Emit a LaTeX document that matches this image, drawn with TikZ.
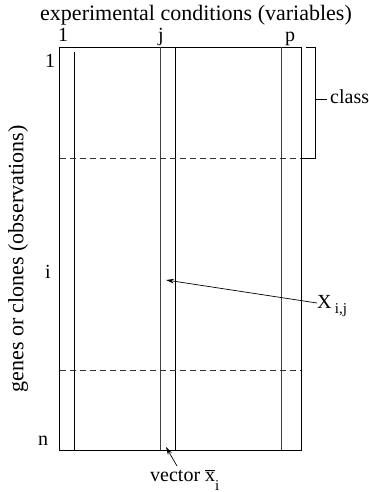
\documentclass[tikz,border=0pt]{standalone}
\usepackage{fontspec}
\setmainfont{Liberation Serif}
\usetikzlibrary{arrows.meta}
\begin{document}
\begin{tikzpicture}[x=1pt,y=-1pt,
  lbl/.style={inner sep=0pt,anchor=base,font=\fontsize{20}{24}\selectfont},
  big/.style={inner sep=0pt,anchor=base,font=\fontsize{22}{26}\selectfont},
  ln/.style={line width=0.9pt},
  gl/.style={line width=0.9pt,draw=black!75},
  dl/.style={line width=0.8pt,dash pattern=on 6pt off 4pt,draw=black!80},
  arr/.style={line width=0.7pt,-{Stealth[length=8pt,width=4.5pt]}}]
\useasboundingbox (0,0) rectangle (369,492);
% matrix frame
\coordinate (tl) at (59.5,47.5);
\coordinate (br) at (301,450);
\draw[ln] (tl) rectangle (br);
% column lines
\coordinate (c1t) at (74,52); \coordinate (c1b) at (74,450);
\coordinate (jat) at (160.5,47.5); \coordinate (jab) at (160.5,450);
\coordinate (jbt) at (175,47.5); \coordinate (jbb) at (175,450);
\coordinate (pt) at (281,47.5); \coordinate (pb) at (281,450);
\draw[ln] (c1t) -- (c1b);
\draw[gl] (jat) -- (jab);
\draw[ln] (jbt) -- (jbb);
\draw[gl] (pt) -- (pb);
% dashed class boundaries
\coordinate (d1l) at (59.5,158); \coordinate (d1r) at (301,158);
\coordinate (d2l) at (59.5,370); \coordinate (d2r) at (301,370);
\draw[dl] (d1l) -- (d1r);
\draw[dl] (d2l) -- (d2r);
% class bracket
\coordinate (bt0) at (306,47.5); \coordinate (bt1) at (315,47.5);
\coordinate (bb1) at (315,158); \coordinate (bb0) at (301,158);
\draw[ln] (bt0) -- (bt1) -- (bb1) -- (bb0);
\coordinate (tk0) at (315,99);
\node[lbl,anchor=base west] (class) at (330,104) {class};
\draw[ln] (tk0) -- (327,99);
% labels
\node[big] (title) at (196,21) {experimental conditions (variables)};
\node[lbl] (col1) at (63,41.5) {1};
\node[lbl] (colj) at (161,41.5) {j};
\node[lbl] (colp) at (290,41.5) {p};
\node[lbl] (row1) at (50,68) {1};
\node[lbl] (rowi) at (48,278) {i};
\node[lbl] (rown) at (43,445) {n};
\node[big,rotate=90,anchor=center] (obs) at (18,259) {genes or clones (observations)};
% X_ij
\node[lbl,anchor=base west] (X) at (317,308) {X\,\raisebox{-5pt}{\fontsize{15}{15}\selectfont i,j}};
\coordinate (xij) at (166,280);
\draw[arr] (X.west |- 0,303) -- (xij);
% vector
\node[lbl,anchor=base west] (vec) at (150,481) {vector \raisebox{-0pt}{$\overline{\mbox{x}}$}\raisebox{-9pt}{\fontsize{15}{15}\selectfont i}};
\coordinate (vx) at (166,447);
\draw[arr] (177,466) -- (vx);
\end{tikzpicture}
\end{document}
